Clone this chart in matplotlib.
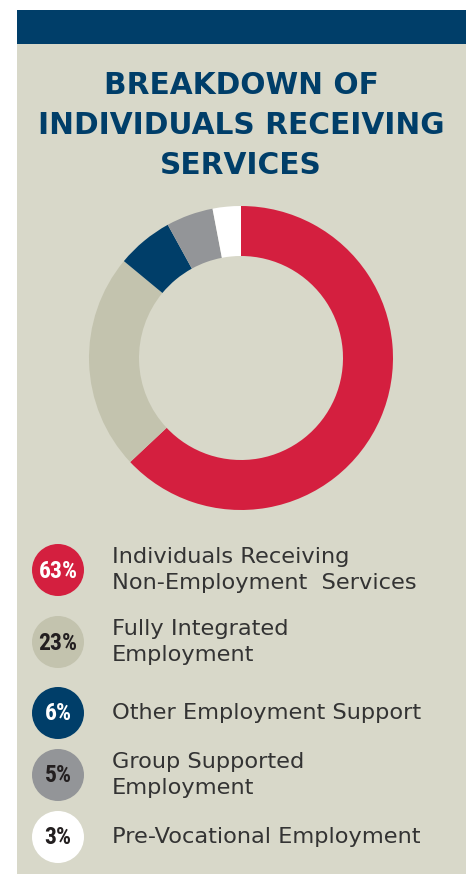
import matplotlib
matplotlib.use("Agg")
import matplotlib.pyplot as plt
from matplotlib.patches import Rectangle, Circle
from matplotlib import font_manager as fm

# ---- data ----
title_lines = ["BREAKDOWN OF", "INDIVIDUALS RECEIVING", "SERVICES"]
categories = [
    "Individuals Receiving\nNon-Employment  Services",
    "Fully Integrated\nEmployment",
    "Other Employment Support",
    "Group Supported\nEmployment",
    "Pre-Vocational Employment",
]
values = [63, 23, 6, 5, 3]
pct_labels = ["63%", "23%", "6%", "5%", "3%"]
colors = ["#d41f3f", "#c3c3ae", "#003e69", "#939598", "#ffffff"]
pct_text_colors = ["#ffffff", "#231f20", "#ffffff", "#231f20", "#231f20"]

BG = "#d8d8c9"
NAVY = "#003e69"
TEXT = "#333333"

W, H = 466, 874
fig = plt.figure(figsize=(W / 100, H / 100), dpi=100)
fig.patch.set_facecolor("white")

def has(name, minw, maxw):
    for f in fm.fontManager.ttflist:
        if f.name == name:
            w = f.weight
            if isinstance(w, str):
                w = fm.weight_dict.get(w, 400)
            if minw <= w <= maxw:
                return True
    return False

available = {f.name for f in fm.fontManager.ttflist}
def pick(cands):
    for c in cands:
        if c in available:
            return c
    return "DejaVu Sans"

narrow = pick(["Liberation Sans Narrow", "DejaVu Sans Condensed", "Roboto Condensed", "Open Sans Condensed", "Liberation Sans"])

if has("Montserrat", 600, 800):
    title_font, title_size = "Montserrat", 20.5
else:
    title_font, title_size = "DejaVu Sans", 21.3

if has("Montserrat", 400, 500):
    body_font, body_size = "Montserrat", 15.5
else:
    body_font, body_size = "DejaVu Sans", 16.2

ax = fig.add_axes([0, 0, 1, 1])
ax.set_xlim(0, W)
ax.set_ylim(H, 0)
ax.axis("off")

# panel and top bar
ax.add_patch(Rectangle((17, 10), W - 17, H - 10, facecolor=BG, edgecolor="none"))
ax.add_patch(Rectangle((17, 10), W - 17, 34, facecolor=NAVY, edgecolor="none"))

# title
for i, line in enumerate(title_lines):
    ax.text(241, 94 + i * 40, line, ha="center", va="baseline",
            fontsize=title_size, fontweight="bold", color=NAVY, family=title_font)

# donut
cx, cy, r = 241, 358, 152
pax = fig.add_axes([(cx - r) / W, 1 - (cy + r) / H, 2 * r / W, 2 * r / H])
pax.pie(values, colors=colors, startangle=90, counterclock=False,
        wedgeprops=dict(width=50 / 152, edgecolor="none", linewidth=0))
pax.set_xlim(-1, 1)
pax.set_ylim(-1, 1)
pax.set_aspect("equal")
pax.axis("off")

# legend
ys = [570, 642, 713, 775, 837]
for y, lab, pct, c, tc in zip(ys, categories, pct_labels, colors, pct_text_colors):
    ax.add_patch(Circle((58, y), 26, facecolor=c, edgecolor="none"))
    ax.text(58, y + 1, pct, ha="center", va="center", fontsize=17,
            fontweight="bold", color=tc, family=narrow)
    ax.text(112, y, lab, ha="left", va="center", fontsize=body_size,
            color=TEXT, family=body_font, linespacing=1.38)

fig.savefig("out.png", dpi=100, facecolor=fig.get_facecolor())
